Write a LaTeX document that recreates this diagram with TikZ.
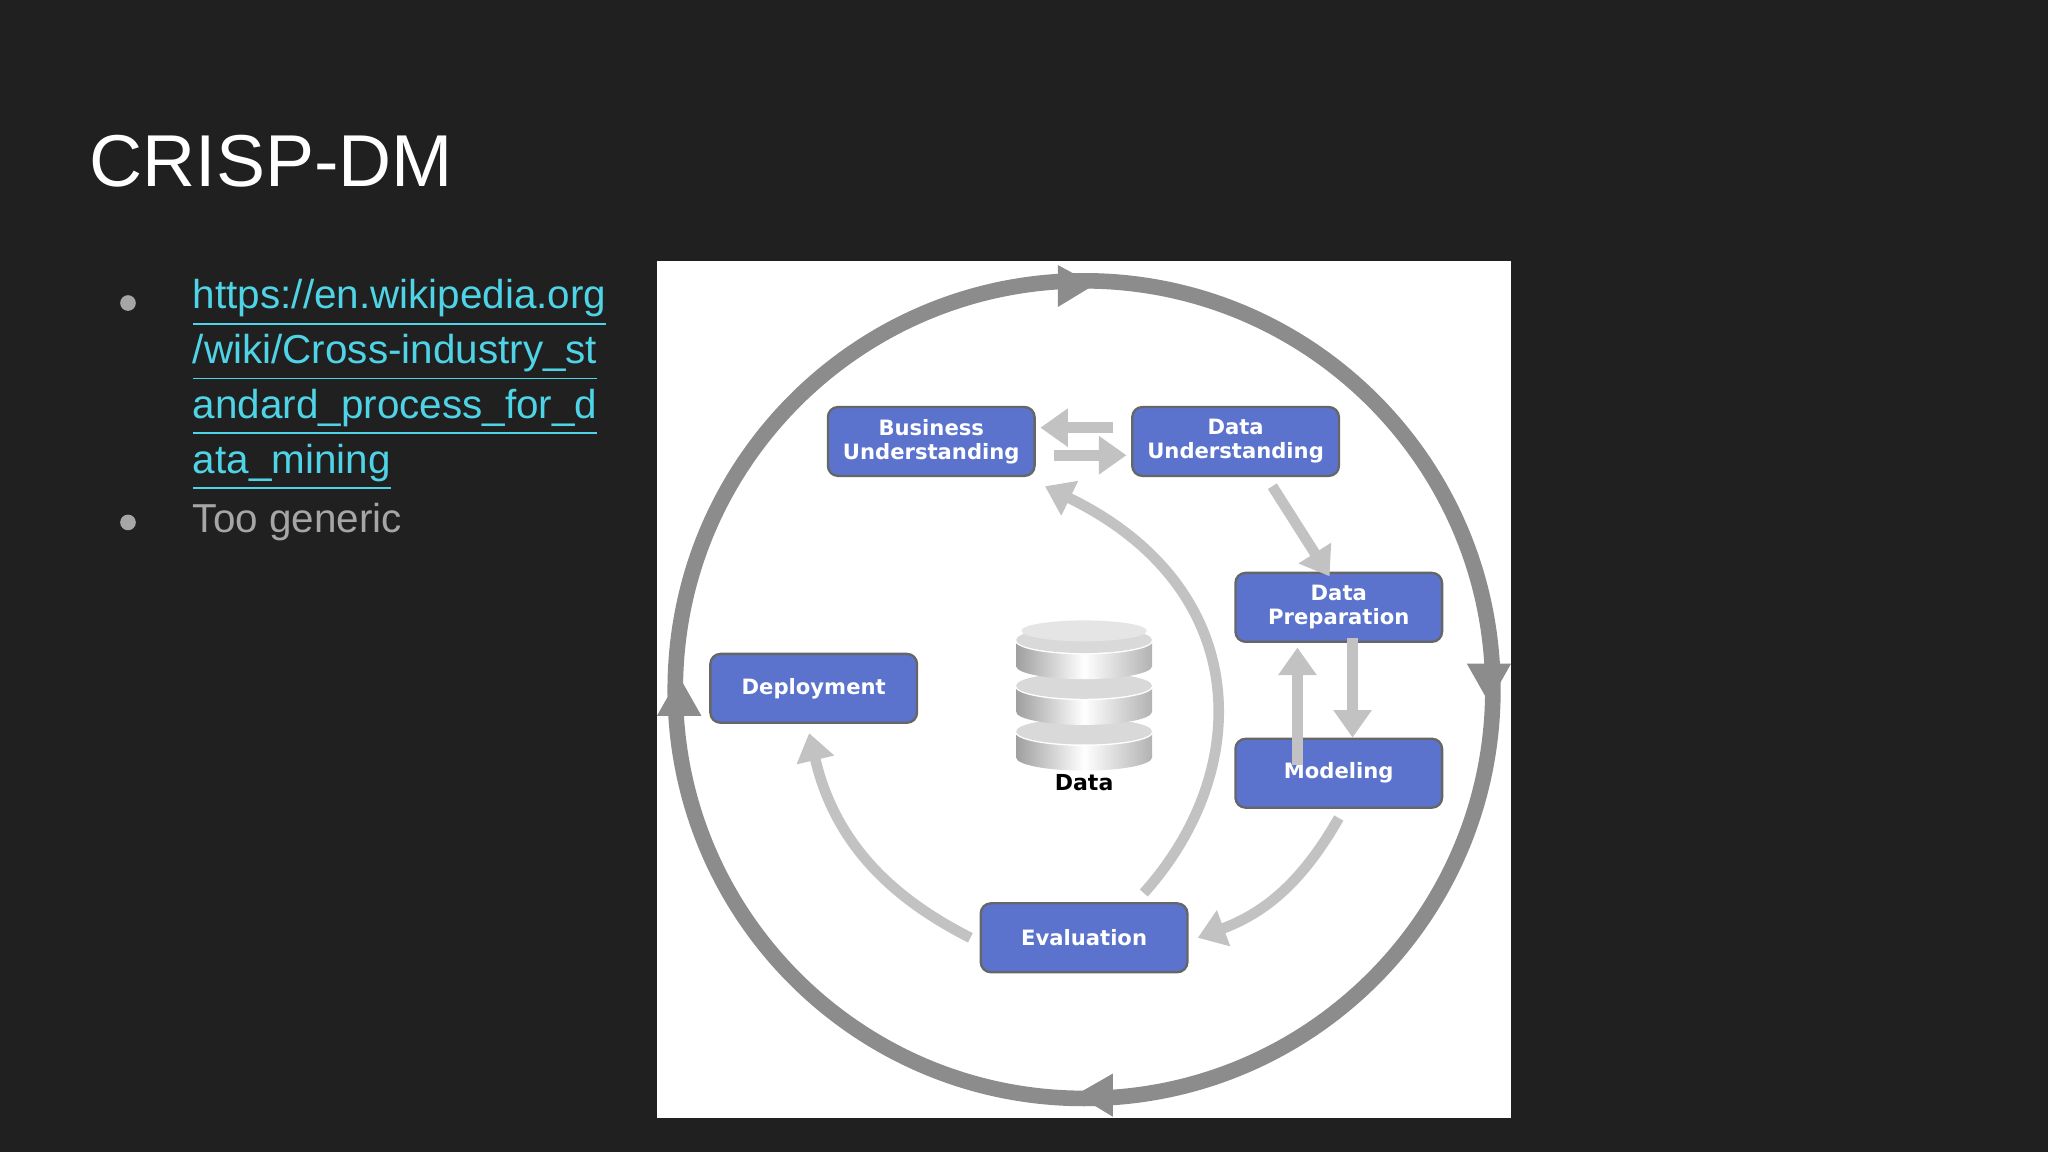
\documentclass[tikz,border=0pt]{standalone}
\usepackage{fontspec}
\setmainfont{Liberation Sans}
\newfontfamily\boxfont{DejaVu Sans}
\usetikzlibrary{arrows.meta}
\definecolor{bg}{HTML}{202020}
\definecolor{ring}{HTML}{8C8C8C}
\definecolor{lite}{HTML}{C2C2C2}
\definecolor{boxblue}{HTML}{5B73CC}
\definecolor{link}{HTML}{4FD3E6}
\tikzset{
 phase/.style={draw=gray!80!black,line width=0.5pt,fill=boxblue,rounded corners=2.2pt,minimum width=45pt,minimum height=15pt,inner sep=0pt,text=white,font=\boxfont\bfseries\fontsize{4.6}{5.2}\selectfont,align=center},
 flow/.style={lite,line width=2.3pt,-{Triangle[length=6pt,width=8pt]}},
 ringtip/.style={fill=ring,draw=none},
 bullettxt/.style={anchor=west,font=\fontsize{8.8}{10}\selectfont,inner sep=0pt},
}
\begin{document}
\begin{tikzpicture}[x=0.01cm,y=-0.01cm]
\fill[bg] (0,0) rectangle (1568,882);
\useasboundingbox (0,0) rectangle (1568,882);
\node[anchor=base west,text=white,font=\fontsize{16}{18}\selectfont,inner sep=0pt] (title) at (68,143) {CRISP-DM};
\foreach \y in {232,400} \fill[gray!70] (98,\y) circle (6);
\node[bullettxt,text=link] (l1) at (147,232) {\underline{https://en.wikipedia.org}};
\node[bullettxt,text=link] (l2) at (147,274) {\underline{/wiki/Cross-industry\_st}};
\node[bullettxt,text=link] (l3) at (147,316) {\underline{andard\_process\_for\_d}};
\node[bullettxt,text=link] (l4) at (147,358) {\underline{ata\_mining}};
\node[bullettxt,text=gray!70] (l5) at (147,400) {Too generic};
\fill[white] (503,200) rectangle (1157,856);
\draw[ring,line width=3.4pt] (830,528) circle (313);
\fill[ringtip] (810,203) -- (838,218) -- (810,235) -- cycle;
\fill[ringtip] (1123,508) -- (1157,508) -- (1140,538) -- cycle;
\fill[ringtip] (852,822) -- (824,838) -- (852,855) -- cycle;
\fill[ringtip] (503,548) -- (537,548) -- (520,518) -- cycle;
\node[phase] (bu) at (713,338) {Business\\Understanding};
\node[phase] (du) at (946,338) {Data\\Understanding};
\node[phase] (dp) at (1025,465) {Data\\Preparation};
\node[phase] (dep) at (623,527) {Deployment};
\node[phase] (mod) at (1025,592) {Modeling};
\node[phase] (ev) at (830,718) {Evaluation};
\draw[flow] ([xshift=4pt,yshift=-3pt]bu.east) -- ([xshift=-1pt,yshift=-3pt]du.west);
\draw[flow] ([xshift=-4pt,yshift=3pt]du.west) -- ([xshift=1pt,yshift=3pt]bu.east);
\draw[flow] ([xshift=8pt,yshift=-2pt]du.south) -- ([xshift=-2pt,yshift=-1pt]dp.north);
\draw[flow] ([xshift=-9pt,yshift=-6pt]dp.south|-mod.north) -- ([xshift=-9pt,yshift=-1pt]dp.south);
\draw[flow] ([xshift=3pt,yshift=1pt]dp.south) -- ([xshift=3pt,yshift=0pt]mod.north);
\draw[flow] ([yshift=-2pt]mod.south) to[bend left=20] ([xshift=2pt]ev.east);
\draw[flow] ([xshift=-2pt]ev.west) to[bend left=25] ([xshift=-1pt,yshift=-2pt]dep.south);
\draw[flow] ([xshift=13pt,yshift=2pt]ev.north) .. controls (960,590) and (960,450) .. ([xshift=2pt,yshift=-2pt]bu.south east);
% database
\begin{scope}
\foreach \yy in {560,525,490}{
 \fill[gray!55] (778,\yy) rectangle (882,\yy+20);
 \shade[left color=gray!75,right color=gray!60,middle color=white] (778,\yy) rectangle (882,\yy+20);
 \shade[left color=gray!75,right color=gray!60,middle color=white] (830,\yy+20) ellipse (52 and 10);
 \draw[white,line width=0.6pt] (830,\yy) ellipse (52 and 10);
 \fill[gray!30] (830,\yy) ellipse (52 and 10);
}
\fill[gray!20] (830,483) ellipse (48 and 8);
\end{scope}
\node[font=\boxfont\bfseries\fontsize{4.8}{5}\selectfont] (data) at (830,599) {Data};
\end{tikzpicture}
\end{document}
